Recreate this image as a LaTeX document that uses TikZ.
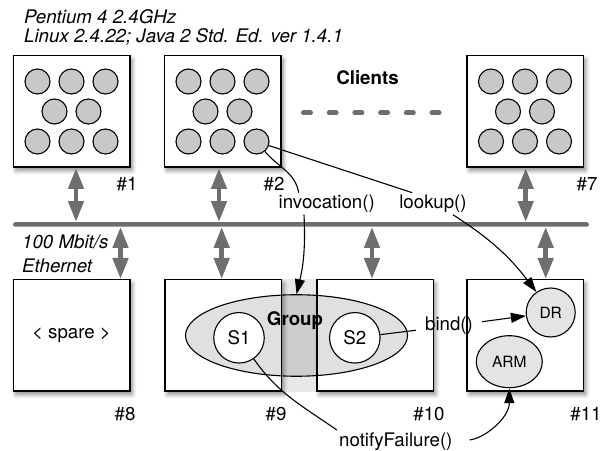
\documentclass[tikz,border=0pt]{standalone}
\usepackage{fontspec}
\setmainfont{TeX Gyre Heros}
\usetikzlibrary{shapes.geometric, arrows.meta, positioning, shadows.blur}
\definecolor{netgray}{HTML}{6E6E6E}
\definecolor{procgray}{HTML}{C8C8C8}
\definecolor{svcgray}{HTML}{E4E4E4}

\begin{document}
\begin{tikzpicture}[
			x=1pt, y=1pt,
			font=\fontsize{18.7}{22}\selectfont,
			pc/.style={draw, line width=1.5pt, fill=white, minimum width=116.5pt, minimum height=111.5pt,
				blur shadow={shadow xshift=2.5pt, shadow yshift=-3.5pt, shadow blur radius=4pt, shadow blur steps=6, shadow opacity=45}},
			proc/.style={circle, draw, line width=1.1pt, fill=procgray, minimum size=25pt, inner sep=0pt},
			srv/.style={circle, draw, line width=1.1pt, fill=white, minimum size=50.5pt, inner sep=0pt},
			mgr/.style={draw, line width=1.1pt, fill=svcgray, inner sep=0pt, font=\fontsize{15.5}{18}\selectfont},
			tag/.style={anchor=base, inner sep=0pt},
			call/.style={anchor=base, inner sep=2pt},
			note/.style={anchor=north west, inner sep=0pt, align=left},
			wire/.style={line width=1.1pt},
			arr/.style={wire, -{Triangle[length=15pt, width=10pt]}},
			duplex/.style={line width=4.5pt, draw=netgray, {Triangle[length=21pt, width=15pt]}-{Triangle[length=21pt, width=15pt]}}
			]
			\useasboundingbox (0,0) rectangle (608,450);

			\node[note, font=\fontsize{18.7}{19}\selectfont\itshape] (hw) at (24,441)
			{Pentium 4 2.4GHz\\Linux 2.4.22; Java 2 Std. Ed. ver 1.4.1};

			% client machines
			\node[pc] (c1) at (71.5,338.5) {};
			\node[pc] (c2) at (222.5,338.5) {};
			\node[pc] (c7) at (525,338.5) {};
			\foreach \m in {c1,c2,c7} {
				\foreach \dx/\dy [count=\i] in {-34/30, 0/30, 34/30, -17/0, 17/0, -34/-30, 0/-30, 34/-30}
					\node[proc] (\m-\i) at ([shift={(\dx,\dy)}]\m) {};
			}
			\node[anchor=base, font=\fontsize{18.7}{22}\selectfont\bfseries] (clients) at (367.5,365) {Clients};
			\coordinate (dots-a) at (303.5,337);
			\coordinate (dots-b) at (439,337);
			\draw[netgray, line width=5pt, line cap=round, dash pattern=on 7pt off 18.7pt] (dots-a) -- (dots-b);

			% network
			\node[fill=netgray, minimum width=576pt, minimum height=4.5pt, inner sep=0pt, rounded corners=2.25pt] (net) at (301,225.5) {};
			\node[note, font=\fontsize{18.7}{23.4}\selectfont\itshape] (eth) at (22,215) {100 Mbit/s\\Ethernet};

			% server machines
			\node[pc] (s8) at (71.5,114.5) {< spare >};
			\node[pc] (s9) at (223,114.5) {};
			\node[pc] (s10) at (375,114.5) {};
			\node[pc] (s11) at (525,114.5) {};

			\node[tag] (n1) at (127,259) {\#1};
			\node[tag] (n2) at (274,259) {\#2};
			\node[tag] (n7) at (587,259) {\#7};
			\node[tag] (n8) at (125,29) {\#8};
			\node[tag] (n9) at (276,29) {\#9};
			\node[tag] (n10) at (429,29) {\#10};
			\node[tag] (n11) at (586,29) {\#11};

			\foreach \m/\dx in {c1/4.5, c2/-3.5, c7/0.7}
				\draw[duplex] ([xshift=\dx pt]\m.south) -- ([xshift=\dx pt]\m.south |- net.north);
			\foreach \m/\dx in {s8/49, s9/-1.3, s10/-3, s11/20.7}
				\draw[duplex] ([xshift=\dx pt]\m.north) -- ([xshift=\dx pt]\m.north |- net.south);

			% replication group
			\fill[black, opacity=.09] (s9.north east) rectangle (s10.south west);
			\node[ellipse, draw, line width=1.1pt, fill=black, fill opacity=.12, minimum width=222pt, minimum height=81.5pt, inner sep=0pt] (group) at (296.5,114.5) {};
			\node[anchor=base, font=\fontsize{18.7}{22}\selectfont\bfseries] (grouptxt) at (295,124.5) {Group};
			\node[srv] (s1) at (239,112.2) {S1};
			\node[srv] (s2) at (354.8,112.2) {S2};
			\node[mgr, circle, minimum size=49pt] (dr) at (550.7,137.5) {DR};
			\node[mgr, ellipse, minimum width=66pt, minimum height=52pt] (arm) at (509.3,88.3) {ARM};

			% calls
			\node[call] (inv) at (326.7,241.5) {invocation()};
			\node[call] (lookup) at (433,241.5) {lookup()};
			\node[call, inner xsep=9pt] (bind) at (449,119) {bind()};
			\node[call] (notify) at (395.8,4) {notifyFailure()};

			\draw[wire] (c2-8) -- ([xshift=15pt]lookup.north west);
			\draw[wire] (c2-8) to[out=-50, in=100] ([xshift=-28pt]inv.north);
			\draw[arr] ([xshift=-22.7pt]inv.south) to[bend left=8] (group.north);
			\draw[arr] ([xshift=20pt]lookup.south) to[bend left=10] (dr);
			\draw[wire] (s2) -- (bind);
			\draw[arr] (bind) -- (dr);
			\draw[wire] (s1) to[out=-55, in=145] (notify.north west);
			\draw[arr, shorten <=15pt] (notify.east) to[out=5, in=-90] (arm.south);

		\end{tikzpicture}
\end{document}
